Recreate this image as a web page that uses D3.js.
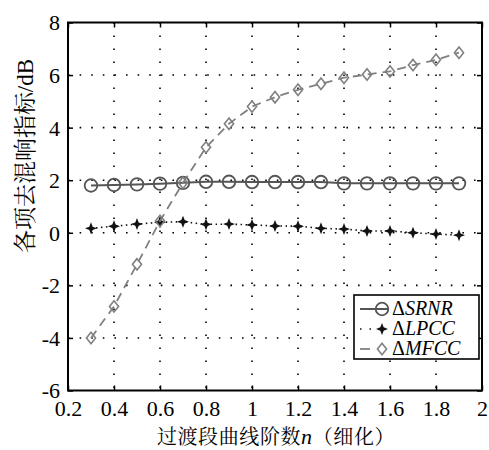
<!DOCTYPE html>
<html>
<head>
<meta charset="utf-8">
<script src="https://cdn.jsdelivr.net/npm/d3@7"></script>
<style>
  body { margin: 0; background: #fff; }
  svg { display: block; }
</style>
</head>
<body>
<script>
// data
var nOrder = [0.3, 0.4, 0.5, 0.6, 0.7, 0.8, 0.9, 1.0, 1.1, 1.2, 1.3, 1.4, 1.5, 1.6, 1.7, 1.8, 1.9]
var srnr = [1.80, 1.82, 1.84, 1.87, 1.90, 1.94, 1.94, 1.93, 1.93, 1.93, 1.93, 1.88, 1.88, 1.88, 1.88, 1.88, 1.88]
var lpcc = [0.17, 0.25, 0.33, 0.40, 0.42, 0.32, 0.33, 0.30, 0.26, 0.25, 0.17, 0.14, 0.07, 0.07, 0.0, -0.05, -0.09]
var mfcc = [-4.0, -2.8, -1.2, 0.45, 1.9, 3.25, 4.15, 4.8, 5.16, 5.44, 5.67, 5.9, 6.02, 6.14, 6.38, 6.58, 6.85]
var xTicks = [0.2, 0.4, 0.6, 0.8, 1, 1.2, 1.4, 1.6, 1.8, 2]
var yTicks = [-6, -4, -2, 0, 2, 4, 6, 8]
var seriesNames = ['SRNR', 'LPCC', 'MFCC']

var W = 489, H = 450
// plot box (note: "top" is taken by window.top)
var pL = 68, pR = 482, pT = 22.5, pB = 390.5

var svg = d3.select('body').append('svg')
    .attr('width', W)
    .attr('height', H)

var x = d3.scaleLinear().domain([0.2, 2]).range([pL, pR])
var y = d3.scaleLinear().domain([-6, 8]).range([pB, pT])

// dotted grid
var grid = svg.append('g')
grid.selectAll('.gx')
    .data(xTicks.slice(1, -1))
    .enter()
    .append('line')
    .attr('x1', d => x(d)).attr('x2', d => x(d))
    .attr('y1', pT).attr('y2', pB)
    .attr('stroke', '#000')
    .attr('stroke-width', 1.6)
    .attr('stroke-dasharray', '1.6,11.4')
grid.selectAll('.gy')
    .data(yTicks.slice(1, -1))
    .enter()
    .append('line')
    .attr('x1', pL).attr('x2', pR)
    .attr('y1', d => y(d)).attr('y2', d => y(d))
    .attr('stroke', '#000')
    .attr('stroke-width', 1.6)
    .attr('stroke-dasharray', '1.6,10')

// axes with inward ticks
var fontNum = '"Liberation Serif", "DejaVu Serif", serif'
var xAxis = d3.axisBottom(x).tickValues(xTicks).tickSizeInner(-5).tickSizeOuter(0)
    .tickFormat(d3.format('~g'))
var yAxis = d3.axisLeft(y).tickValues(yTicks).tickSizeInner(-5).tickSizeOuter(0)
    .tickFormat(d => d)

var gx = svg.append('g').attr('transform', 'translate(0,' + pB + ')').call(xAxis)
gx.selectAll('text').attr('dy', 0).attr('y', 25)
var gy = svg.append('g').attr('transform', 'translate(' + pL + ',0)').call(yAxis)
gy.selectAll('text').attr('x', -8).attr('dy', '0.34em')

svg.append('g').attr('transform', 'translate(0,' + pT + ')')
    .call(d3.axisTop(x).tickValues(xTicks).tickSizeInner(-5).tickSizeOuter(0).tickFormat(''))
svg.append('g').attr('transform', 'translate(' + pR + ',0)')
    .call(d3.axisRight(y).tickValues(yTicks).tickSizeInner(-5).tickSizeOuter(0).tickFormat(''))

svg.selectAll('.domain').remove()
svg.selectAll('.tick line').attr('stroke', '#000').attr('stroke-width', 1.5)
svg.selectAll('.tick text')
    .attr('fill', '#000')
    .style('font-family', fontNum)
    .style('font-size', '22px')

// frame
svg.append('rect')
    .attr('x', pL).attr('y', pT)
    .attr('width', pR - pL).attr('height', pB - pT)
    .attr('fill', 'none')
    .attr('stroke', '#000')
    .attr('stroke-width', 2)

// 4-point star marker
var star4 = {
    draw: function(ctx, size) {
        var r = Math.sqrt(size) / 2, k = r * 0.28
        ctx.moveTo(0, -r)
        ctx.lineTo(k, -k)
        ctx.lineTo(r, 0)
        ctx.lineTo(k, k)
        ctx.lineTo(0, r)
        ctx.lineTo(-k, k)
        ctx.lineTo(-r, 0)
        ctx.lineTo(-k, -k)
        ctx.closePath()
    }
}
var diamond = {
    draw: function(ctx, size) {
        var w = Math.sqrt(size) / 2 * 0.8, h = Math.sqrt(size) / 2
        ctx.moveTo(0, -h)
        ctx.lineTo(w, 0)
        ctx.lineTo(0, h)
        ctx.lineTo(-w, 0)
        ctx.closePath()
    }
}

var line = d3.line().x(d => x(d[0])).y(d => y(d[1]))
function pairs(vals) { return nOrder.map((n, i) => [n, vals[i]]) }

var styles = {
    SRNR: { vals: srnr, color: '#555', width: 2, dash: null },
    LPCC: { vals: lpcc, color: '#111', width: 1.6, dash: '1.5,3.5' },
    MFCC: { vals: mfcc, color: '#808080', width: 1.8, dash: '9,6' }
}

function drawMarker(g, name, px, py) {
    if (name === 'SRNR') {
        g.append('circle').attr('cx', px).attr('cy', py).attr('r', 6.3)
            .attr('fill', 'none').attr('stroke', '#555').attr('stroke-width', 1.8)
    } else if (name === 'LPCC') {
        g.append('path').attr('d', d3.symbol().type(star4).size(144)())
            .attr('transform', 'translate(' + px + ',' + py + ')')
            .attr('fill', '#111')
    } else {
        g.append('path').attr('d', d3.symbol().type(diamond).size(130)())
            .attr('transform', 'translate(' + px + ',' + py + ')')
            .attr('fill', 'none').attr('stroke', '#808080').attr('stroke-width', 1.6)
    }
}

// series in order, MFCC ends on top
seriesNames.forEach(function(name) {
    var s = styles[name]
    var g = svg.append('g')
    g.append('path')
        .datum(pairs(s.vals))
        .attr('d', line)
        .attr('fill', 'none')
        .attr('stroke', s.color)
        .attr('stroke-width', s.width)
        .attr('stroke-dasharray', s.dash)
    pairs(s.vals).forEach(p => drawMarker(g, name, x(p[0]), y(p[1])))
})

// legend
var lg = svg.append('g')
lg.append('rect')
    .attr('x', 354).attr('y', 295)
    .attr('width', 125).attr('height', 64)
    .attr('fill', '#fff')
    .attr('stroke', '#000')
    .attr('stroke-width', 1.6)
seriesNames.forEach(function(name, i) {
    var s = styles[name]
    var cy = 309 + i * 20
    lg.append('line')
        .attr('x1', 360).attr('x2', 388)
        .attr('y1', cy).attr('y2', cy)
        .attr('stroke', s.color)
        .attr('stroke-width', s.width)
        .attr('stroke-dasharray', name === 'MFCC' ? '10,20' : (name === 'LPCC' ? '1.5,8' : null))
    drawMarker(lg, name, 382, cy)
    var t = lg.append('text')
        .attr('x', 392).attr('y', cy + 6)
        .style('font-family', fontNum)
        .style('font-size', '20px')
        .attr('fill', '#000')
    t.append('tspan').text('Δ')
    t.append('tspan').style('font-style', 'italic').text(name)
})

// axis titles
var fontCJK = '"Noto Serif CJK SC", "Noto Sans CJK SC", serif'
var xl = svg.append('text')
    .attr('x', 276).attr('y', 444)
    .attr('text-anchor', 'middle')
    .style('font-family', fontCJK)
    .style('font-size', '20px')
    .style('letter-spacing', '0.6px')
    .attr('fill', '#000')
xl.append('tspan').text('过渡段曲线阶数')
xl.append('tspan').style('font-family', fontNum).style('font-style', 'italic').style('font-size', '22px').text('n')
xl.append('tspan').text('（细化）')

var yl = svg.append('text')
    .attr('transform', 'translate(33,156) rotate(-90)')
    .attr('text-anchor', 'middle')
    .style('font-family', fontCJK)
    .style('font-size', '23px')
    .attr('fill', '#000')
yl.append('tspan').text('各项去混响指标')
yl.append('tspan').style('font-family', fontNum).text('/dB')
</script>
</body>
</html>
